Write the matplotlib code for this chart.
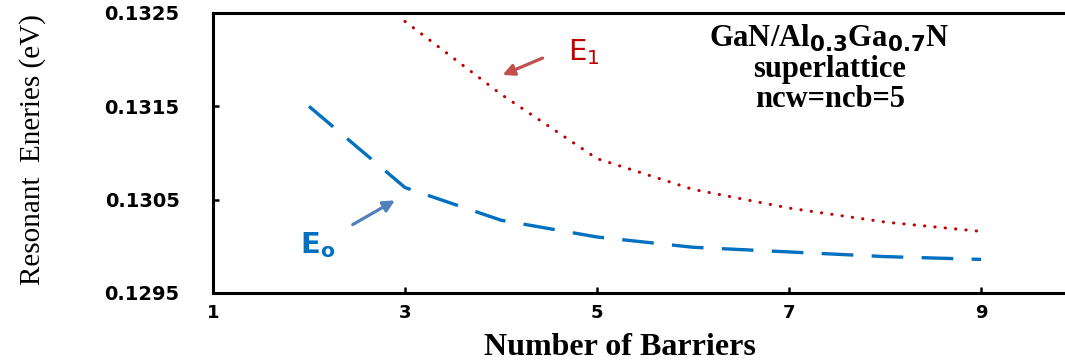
import matplotlib
matplotlib.use("Agg")
import matplotlib.pyplot as plt

# Resonant energies vs number of barriers
barriers_e0 = [2, 3, 4, 5, 6, 7, 8, 9]
energy_e0 = [0.13150, 0.13063, 0.13028, 0.13010, 0.12999, 0.12994, 0.12989, 0.12986]

barriers_e1 = [3, 4, 5, 6, 7, 8, 9]
energy_e1 = [0.13241, 0.13163, 0.13094, 0.13061, 0.13041, 0.13026, 0.13016]

xticks = [1, 3, 5, 7, 9]
yticks = [0.1295, 0.1305, 0.1315, 0.1325]
ytick_labels = ["0.1295", "0.1305", "0.1315", "0.1325"]

plt.rcParams['mathtext.fontset'] = 'dejavusans'

fig = plt.figure(figsize=(10.65, 3.62), dpi=100)
ax = fig.add_axes([213/1065, 69/362, 960/1065, 280/362])

line0, = ax.plot(barriers_e0, energy_e0, color='#0070c0', lw=2.4)
line0.set_dashes((9.5, 5.5))
line1, = ax.plot(barriers_e1, energy_e1, color='#c00000', lw=2.2,
                 dash_capstyle='round')
line1.set_dashes((0.1, 3.3))

ax.set_xlim(1, 11)
ax.set_ylim(0.1295, 0.1325)
ax.set_xticks(xticks)
ax.set_xticklabels([str(v) for v in xticks])
ax.set_yticks(yticks)
ax.set_yticklabels(ytick_labels)

for side in ['left', 'bottom', 'top']:
    ax.spines[side].set_linewidth(2.2)
ax.spines['right'].set_visible(False)
ax.tick_params(axis='both', direction='in', length=4, width=1.8)
ax.tick_params(axis='y', pad=24, labelsize=14)
ax.tick_params(axis='x', pad=8, labelsize=13)
for lab in ax.get_xticklabels() + ax.get_yticklabels():
    lab.set_fontweight('bold')
    lab.set_family('DejaVu Sans')

# curve labels with arrows
ax.annotate('', xy=(3.99, 0.131825), xytext=(4.46, 0.132029),
            arrowprops=dict(arrowstyle='-|>', color='#c0504d', lw=2.3,
                            mutation_scale=17))
ax.text(4.86, 0.13208, r'E$_1$', color='#c00000', fontsize=21,
        family='DejaVu Sans', ha='center', va='center')

ax.annotate('', xy=(2.92, 0.130507), xytext=(2.43, 0.130218),
            arrowprops=dict(arrowstyle='-|>', color='#4f81bd', lw=2.3,
                            mutation_scale=17))
ax.text(2.09, 0.13001, r'$\mathbf{E_o}$', color='#0070c0', fontsize=21,
        ha='center', va='center')

fig.text(0.779, 0.81,
         'GaN/Al$_{\\mathbf{0.3}}$Ga$_{\\mathbf{0.7}}$N\nsuperlattice\nncw=ncb=5',
         family='Liberation Serif', fontweight='bold', fontsize=22,
         ha='center', va='center', linespacing=1.05)

fig.text(0.031, 0.588, 'Resonant  Eneries (eV)', family='Liberation Serif',
         fontsize=21, rotation=90, ha='center', va='center')
fig.text(0.5825, 0.02, 'Number of Barriers', family='Liberation Serif',
         fontweight='bold', fontsize=23, ha='center', va='baseline')

fig.savefig('out.png', dpi=100)
